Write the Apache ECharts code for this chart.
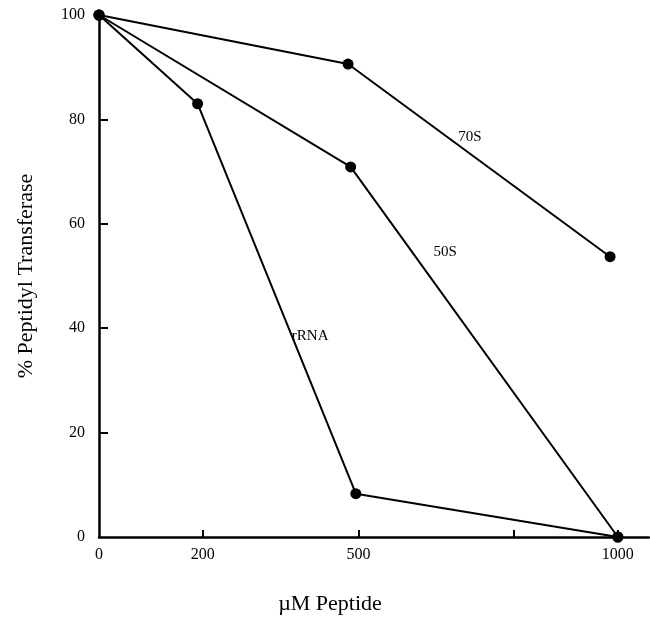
<!DOCTYPE html>
<html>
<head>
<meta charset="utf-8">
<script src="https://cdn.jsdelivr.net/npm/echarts@6/dist/echarts.min.js"></script>
<style>
  html, body { margin: 0; padding: 0; background: #fff; }
  #chart { width: 650px; height: 620px; }
</style>
</head>
<body>
<div id="chart"></div>
<script>
// values (x = µM peptide, y = % activity)
const rrnaX = [0, 190, 495, 1000]
const rrnaY = [100, 83, 8.3, 0]
const s50X = [0, 485, 1000]
const s50Y = [100, 70.9, 0]
const s70X = [0, 480, 985]
const s70Y = [100, 90.6, 53.7]

const xTickValues = [200, 500, 800, 1000]
const xLabelValues = [0, 200, 500, 1000]
const yTickValues = [20, 40, 60, 80]
const yLabelValues = [0, 20, 40, 60, 80, 100]

const serif = '"Liberation Serif", "DejaVu Serif", serif'

function pairs(xs, ys) {
  return xs.map((x, i) => [x, ys[i]])
}

function lineSeries(name, xs, ys, labelAt) {
  return {
    name: name,
    type: 'line',
    data: pairs(xs, ys),
    symbol: 'circle',
    symbolSize: 11,
    clip: false,
    lineStyle: { color: '#000', width: 2 },
    itemStyle: { color: '#000' },
    markPoint: {
      symbol: 'rect',
      symbolSize: 2,
      itemStyle: { color: 'rgba(0,0,0,0)' },
      data: [{ coord: labelAt, value: 0 }],
      label: {
        show: true,
        position: 'inside',
        formatter: name,
        color: '#000',
        fontFamily: serif,
        fontSize: 15
      }
    }
  }
}

const chart = echarts.init(document.getElementById('chart'))
chart.setOption({
  animation: false,
  backgroundColor: '#fff',
  grid: { left: 99, right: 1, top: 15, bottom: 81 },
  xAxis: {
    type: 'value',
    min: 0,
    max: 1060,
    name: 'µM Peptide',
    nameLocation: 'middle',
    nameGap: 56,
    nameTextStyle: { color: '#000', fontFamily: serif, fontSize: 22, padding: [0, 88, 0, 0] },
    splitLine: { show: false },
    axisLine: { lineStyle: { color: '#000', width: 2.5 } },
    axisTick: {
      inside: true,
      length: 7,
      customValues: xTickValues,
      lineStyle: { color: '#000', width: 2 }
    },
    axisLabel: {
      customValues: xLabelValues,
      formatter: v => String(v),
      color: '#000',
      fontFamily: serif,
      fontSize: 16,
      margin: 10
    }
  },
  yAxis: {
    type: 'value',
    min: 0,
    max: 100,
    name: '% Peptidyl Transferase',
    nameLocation: 'middle',
    nameGap: 62,
    nameTextStyle: { color: '#000', fontFamily: serif, fontSize: 22 },
    splitLine: { show: false },
    axisLine: { lineStyle: { color: '#000', width: 2.5 } },
    axisTick: {
      inside: true,
      length: 9,
      customValues: yTickValues,
      lineStyle: { color: '#000', width: 2 }
    },
    axisLabel: {
      customValues: yLabelValues,
      formatter: v => String(v),
      color: '#000',
      fontFamily: serif,
      fontSize: 16,
      margin: 14
    }
  },
  series: [
    lineSeries('70S', s70X, s70Y, [715, 76.7]),
    lineSeries('50S', s50X, s50Y, [667, 54.6]),
    lineSeries('rRNA', rrnaX, rrnaY, [407, 38.5])
  ]
})
</script>
</body>
</html>
